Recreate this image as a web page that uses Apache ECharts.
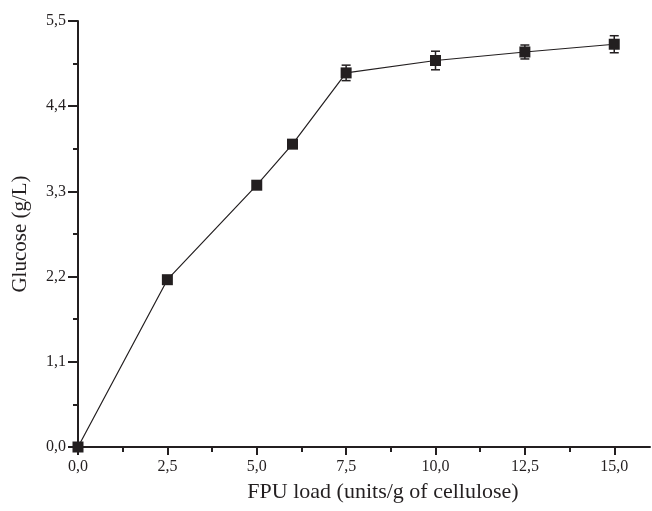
<!DOCTYPE html>
<html><head><meta charset="utf-8">
<script src="https://cdn.jsdelivr.net/npm/echarts@6/dist/echarts.min.js"></script>
<style>html,body{margin:0;padding:0;background:#fff}#c{width:652px;height:511px}</style>
</head><body><div id="c"></div>
<script>
const fpuLoad = [0, 2.5, 5, 6, 7.5, 10, 12.5, 15];
const glucose = [0.0, 2.16, 3.38, 3.91, 4.83, 4.99, 5.10, 5.20];
const glucoseErr = [0, 0, 0, 0, 0.10, 0.12, 0.09, 0.11];
const xTicks = [0, 2.5, 5, 7.5, 10, 12.5, 15];
const xMinorTicks = [1.25, 3.75, 6.25, 8.75, 11.25, 13.75];
const yTicks = [0, 1.1, 2.2, 3.3, 4.4, 5.5];
const yMinorTicks = [0.55, 1.65, 2.75, 3.85, 4.95];
const xTitle = 'FPU load (units/g of cellulose)';
const yTitle = 'Glucose (g/L)';

const fmt = v => Number(v).toFixed(1).replace('.', ',');
const font = 'Liberation Serif';
const ink = '#231f20';

const chart = echarts.init(document.getElementById('c'), null, {renderer: 'canvas'});
const pts = fpuLoad.map((x, i) => [x, glucose[i]]);
const errs = fpuLoad.map((x, i) => [x, glucose[i] - glucoseErr[i], glucose[i] + glucoseErr[i]]).filter((d, i) => glucoseErr[i] > 0);

chart.setOption({
  animation: false,
  grid: {left: 78, right: 2, top: 21, bottom: 64},
  xAxis: [{
    type: 'value', min: 0, max: 16,
    axisLine: {lineStyle: {color: ink, width: 2}},
    axisTick: {show: true, inside: false, length: 8, customValues: xTicks, lineStyle: {color: ink, width: 2}},
    axisLabel: {customValues: xTicks, formatter: fmt, margin: 12, color: ink, fontFamily: font, fontSize: 16},
    splitLine: {show: false},
    name: xTitle, nameLocation: 'middle', nameGap: 34,
    nameTextStyle: {fontFamily: font, fontSize: 22, color: ink, padding: [0, 0, 0, 38]}
  }, {
    type: 'value', min: 0, max: 16, position: 'bottom',
    axisLine: {show: false},
    axisTick: {show: true, inside: false, length: 5, customValues: xMinorTicks, lineStyle: {color: ink, width: 2}},
    axisLabel: {show: false}, splitLine: {show: false}
  }],
  yAxis: [{
    type: 'value', min: 0, max: 5.5,
    axisLine: {show: true, lineStyle: {color: ink, width: 2}},
    axisTick: {show: true, inside: false, length: 10, customValues: yTicks, lineStyle: {color: ink, width: 2}},
    axisLabel: {customValues: yTicks, formatter: fmt, margin: 12, color: ink, fontFamily: font, fontSize: 16},
    splitLine: {show: false},
    name: yTitle, nameLocation: 'middle', nameGap: 47,
    nameTextStyle: {fontFamily: font, fontSize: 21, color: ink}
  }, {
    type: 'value', min: 0, max: 5.5, position: 'left',
    axisLine: {show: false},
    axisTick: {show: true, inside: false, length: 5, customValues: yMinorTicks, lineStyle: {color: ink, width: 2}},
    axisLabel: {show: false}, splitLine: {show: false}
  }],
  series: [{
    type: 'line', data: pts, xAxisIndex: 0, yAxisIndex: 0,
    symbol: 'rect', symbolSize: 11,
    lineStyle: {color: ink, width: 1.2},
    itemStyle: {color: ink},
    z: 3
  }, {
    type: 'custom', xAxisIndex: 0, yAxisIndex: 0, data: errs, z: 2,
    renderItem: function (params, api) {
      const x = api.value(0);
      const lo = api.coord([x, api.value(1)]);
      const hi = api.coord([x, api.value(2)]);
      const hw = 4.5;
      const st = {stroke: ink, lineWidth: 1.5};
      return {type: 'group', children: [
        {type: 'line', shape: {x1: lo[0], y1: lo[1], x2: hi[0], y2: hi[1]}, style: st},
        {type: 'line', shape: {x1: lo[0] - hw, y1: lo[1], x2: lo[0] + hw, y2: lo[1]}, style: st},
        {type: 'line', shape: {x1: hi[0] - hw, y1: hi[1], x2: hi[0] + hw, y2: hi[1]}, style: st}
      ]};
    }
  }]
});
</script></body></html>
